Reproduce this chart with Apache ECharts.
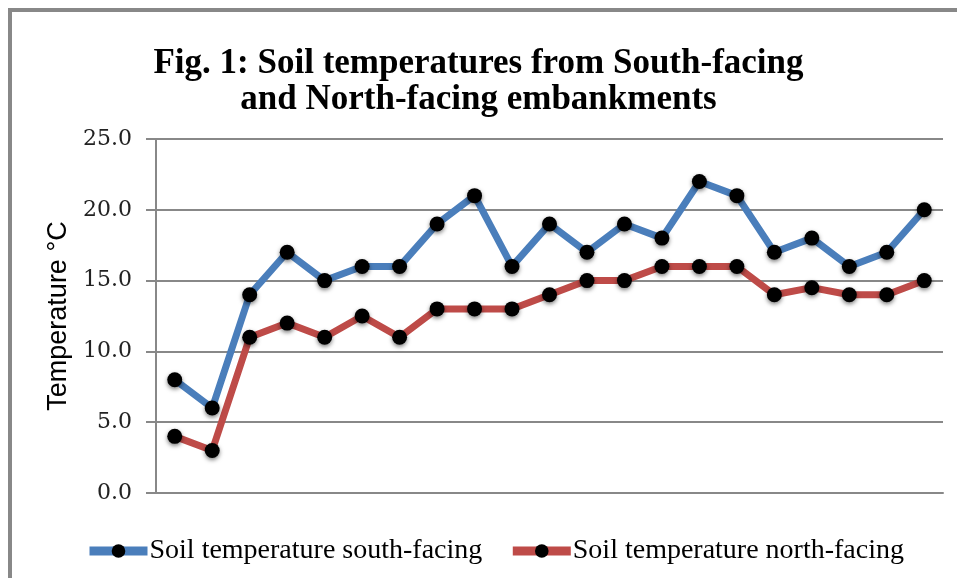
<!DOCTYPE html>
<html lang="en">
<head>
    <meta charset="UTF-8">
    <script src="https://cdn.jsdelivr.net/npm/echarts@6/dist/echarts.min.js"></script>
    <title>Soil temperatures</title>
    <style>
        html, body { margin: 0; padding: 0; background: #fff; }
    </style>
</head>
<body>
<div id="main" style="width: 957px;height:578px;"></div>
<script type="text/javascript">
        // data (21 readings per series)
        var categories = ['1','2','3','4','5','6','7','8','9','10','11','12','13','14','15','16','17','18','19','20','21'];
        var southFacing = [8, 6, 14, 17, 15, 16, 16, 19, 21, 16, 19, 17, 19, 18, 22, 21, 17, 18, 16, 17, 20];
        var northFacing = [4, 3, 11, 12, 11, 12.5, 11, 13, 13, 13, 14, 15, 15, 16, 16, 16, 14, 14.5, 14, 14, 15];
        var yTicks = [0, 5, 10, 15, 20, 25];

        var myChart = echarts.init(document.getElementById('main'));

        var markerStyle = {
            color: '#000',
            shadowBlur: 4,
            shadowColor: 'rgba(0,0,0,0.5)',
            shadowOffsetY: 2
        };

        option = {
            animation: false,
            backgroundColor: '#fff',
            graphic: [{
                type: 'rect',
                shape: { x: 10, y: 10, width: 960, height: 580 },
                style: { fill: 'none', stroke: '#888', lineWidth: 4 }
            }],
            title: {
                text: 'Fig. 1: Soil temperatures from South-facing\nand North-facing embankments',
                left: 'center',
                top: 41,
                textStyle: {
                    fontFamily: 'Liberation Serif',
                    fontWeight: 'bold',
                    fontSize: 35,
                    lineHeight: 36,
                    color: '#000'
                }
            },
            legend: {
                top: 532,
                left: 80,
                itemWidth: 58,
                itemHeight: 17,
                itemGap: 26,
                lineStyle: { width: 9 },
                textStyle: {
                    fontFamily: 'Liberation Serif',
                    fontSize: 28,
                    color: '#000',
                    padding: [0, 0, 0, -3]
                },
                data: ['Soil temperature south-facing', 'Soil temperature north-facing']
            },
            grid: {
                left: 156,
                right: 14,
                top: 139,
                bottom: 85,
                containLabel: false
            },
            xAxis: {
                type: 'category',
                data: categories,
                boundaryGap: true,
                axisLine: { show: true, lineStyle: { color: '#888', width: 2 } },
                axisTick: { show: false },
                axisLabel: { show: false }
            },
            yAxis: {
                type: 'value',
                min: yTicks[0],
                max: yTicks[yTicks.length - 1],
                interval: 5,
                name: 'Temperature °C',
                nameLocation: 'middle',
                nameGap: 82,
                nameTextStyle: {
                    fontFamily: 'Liberation Sans',
                    fontSize: 27,
                    color: '#000'
                },
                axisLine: { show: true, lineStyle: { color: '#888', width: 2 } },
                axisTick: { show: true, length: 10, lineStyle: { color: '#888', width: 2 } },
                splitLine: { lineStyle: { color: '#888', width: 2 } },
                axisLabel: {
                    margin: 24,
                    fontFamily: 'DejaVu Serif',
                    fontSize: 22,
                    color: '#222',
                    formatter: function (v) { return v.toFixed(1); }
                }
            },
            series: [{
                name: 'Soil temperature south-facing',
                type: 'line',
                data: southFacing,
                symbol: 'circle',
                symbolSize: 15,
                lineStyle: { color: '#4a7ebb', width: 7 },
                itemStyle: markerStyle,
                color: '#4a7ebb'
            }, {
                name: 'Soil temperature north-facing',
                type: 'line',
                data: northFacing,
                symbol: 'circle',
                symbolSize: 15,
                lineStyle: { color: '#be4b48', width: 7 },
                itemStyle: markerStyle,
                color: '#be4b48'
            }]
        };

        myChart.setOption(option);
    </script>
</body>
</html>
